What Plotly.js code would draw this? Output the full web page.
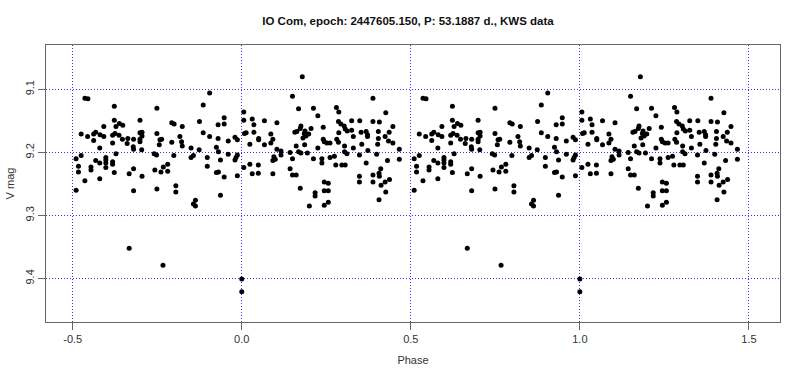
<!DOCTYPE html>
<html>
<head>
<meta charset="utf-8">
<script src="https://cdn.plot.ly/plotly-3.0.1.min.js"></script>
<style>html,body{margin:0;padding:0;background:#fff;}#chart{width:800px;height:381px;}</style>
</head>
<body>
<div id="chart"></div>
<script>
// Folded phase (-0.5..0.5) and V magnitude
const phase = [
-0.464,-0.455,-0.377,-0.251,-0.377,-0.301,-0.362,-0.352,-0.372,-0.408,
-0.207,-0.200,-0.475,-0.456,-0.438,-0.432,-0.419,-0.408,-0.438,-0.382,
-0.375,-0.363,-0.353,-0.337,-0.339,-0.382,-0.320,-0.301,-0.295,-0.295,
-0.301,-0.301,-0.251,-0.242,-0.237,-0.244,-0.207,-0.420,-0.321,-0.320,
-0.296,-0.490,-0.475,-0.483,-0.483,-0.464,-0.490,-0.446,-0.446,-0.432,
-0.420,-0.420,-0.402,-0.402,-0.402,-0.402,-0.382,-0.382,-0.377,-0.372,
-0.333,-0.320,-0.295,-0.320,-0.259,-0.252,-0.257,-0.239,-0.232,-0.219,
-0.219,-0.251,-0.201,-0.195,-0.195,-0.333,-0.233,
-0.095,-0.114,-0.125,-0.176,-0.052,-0.070,-0.052,0.006,0.006,0.031,
0.036,0.067,0.104,-0.114,-0.095,-0.070,-0.040,-0.020,-0.013,-0.183,
-0.178,0.008,0.013,0.036,0.050,0.050,0.024,0.086,0.092,0.086,
0.067,0.157,-0.176,-0.150,-0.143,-0.150,-0.126,-0.075,-0.069,-0.102,
-0.102,-0.063,-0.040,-0.013,-0.017,-0.020,-0.075,-0.069,-0.052,-0.013,
0.006,0.024,0.031,0.049,0.049,0.104,0.116,0.116,0.095,0.099,
0.092,0.092,0.143,0.150,0.143,0.150,-0.137,-0.143,-0.137,-0.063,
0.000,0.000,0.150,
0.179,0.168,0.212,0.225,0.280,0.287,0.388,0.426,0.163,0.175,
0.173,0.187,0.185,0.205,0.241,0.198,0.190,0.181,0.286,0.293,
0.303,0.306,0.312,0.325,0.325,0.287,0.349,0.353,0.368,0.372,
0.372,0.388,0.407,0.404,0.436,0.447,0.330,0.404,0.424,0.434,
0.447,0.241,0.244,0.252,0.261,0.281,0.286,0.355,0.402,0.161,
0.168,0.175,0.186,0.194,0.225,0.304,0.311,0.304,0.330,0.348,
0.373,0.399,0.466,0.466,0.212,0.237,0.237,0.261,0.274,0.278,
0.296,0.306,0.368,0.431,0.161,0.173,0.217,0.217,0.244,0.256,
0.244,0.256,0.256,0.244,0.200,0.348,0.348,0.388,0.388,0.406,
0.407,0.411,0.424,0.437,0.412,0.426,0.406
];
const vmag = [
9.114,9.115,9.127,9.130,9.149,9.149,9.154,9.157,9.159,9.159,
9.153,9.155,9.171,9.175,9.171,9.168,9.172,9.175,9.181,9.173,
9.170,9.173,9.179,9.178,9.186,9.185,9.179,9.169,9.168,9.174,
9.179,9.183,9.170,9.180,9.179,9.188,9.184,9.193,9.191,9.195,
9.196,9.210,9.205,9.222,9.231,9.245,9.260,9.223,9.228,9.213,
9.217,9.242,9.208,9.212,9.217,9.224,9.215,9.219,9.232,9.202,
9.234,9.226,9.238,9.261,9.202,9.204,9.228,9.231,9.223,9.219,
9.230,9.258,9.205,9.253,9.263,9.352,9.379,
9.106,9.125,9.151,9.159,9.145,9.156,9.155,9.136,9.149,9.147,
9.156,9.150,9.153,9.169,9.175,9.178,9.182,9.176,9.180,9.175,
9.183,9.170,9.169,9.168,9.178,9.180,9.187,9.171,9.179,9.185,
9.188,9.168,9.190,9.193,9.205,9.208,9.196,9.192,9.199,9.208,
9.222,9.212,9.203,9.204,9.208,9.212,9.232,9.231,9.239,9.237,
9.224,9.219,9.234,9.220,9.233,9.195,9.198,9.204,9.207,9.211,
9.213,9.234,9.200,9.210,9.226,9.236,9.276,9.282,9.285,9.268,
9.401,9.421,9.111,
9.080,9.131,9.130,9.142,9.129,9.136,9.114,9.137,9.167,9.158,
9.162,9.166,9.170,9.162,9.160,9.171,9.174,9.177,9.151,9.155,
9.158,9.163,9.166,9.150,9.165,9.169,9.150,9.168,9.167,9.172,
9.175,9.151,9.152,9.167,9.168,9.159,9.175,9.178,9.175,9.182,
9.185,9.179,9.183,9.185,9.185,9.179,9.184,9.187,9.187,9.190,
9.199,9.201,9.188,9.201,9.193,9.190,9.202,9.199,9.193,9.204,
9.197,9.203,9.195,9.211,9.210,9.210,9.217,9.208,9.206,9.220,
9.220,9.220,9.217,9.213,9.236,9.257,9.264,9.269,9.247,9.249,
9.261,9.261,9.279,9.284,9.285,9.238,9.247,9.236,9.247,9.233,
9.238,9.226,9.247,9.243,9.252,9.263,9.275
];
const xTicks = [-0.5, 0.0, 0.5, 1.0, 1.5];
const xTickText = ["-0.5", "0.0", "0.5", "1.0", "1.5"];
const yTicks = [9.1, 9.2, 9.3, 9.4];
const yTickText = ["9.1", "9.2", "9.3", "9.4"];
const titleText = "IO Com, epoch: 2447605.150, P: 53.1887 d., KWS data";

// each observation is shown twice: at its phase and one cycle later
const xs = phase.concat(phase.map(p => p + 1));
const ys = vmag.concat(vmag);

const trace = {
  x: xs, y: ys, type: 'scatter', mode: 'markers',
  marker: {color: '#000000', size: 5, line: {width: 0}},
  hoverinfo: 'x+y'
};

const gridCol = '#3030ff';
const layout = {
  width: 800, height: 381,
  margin: {l: 46, r: 20, t: 45, b: 59},
  paper_bgcolor: '#ffffff', plot_bgcolor: '#ffffff',
  showlegend: false,
  font: {family: 'Liberation Sans, Arial, sans-serif', size: 11, color: '#333'},
  title: {text: '<b>' + titleText + '</b>', x: 0.51, xanchor: 'center', y: 0.945, yanchor: 'middle',
          font: {family: 'Liberation Sans, Arial, sans-serif', size: 11.5, color: '#111'}},
  xaxis: {
    range: [-0.579, 1.592], tickvals: xTicks, ticktext: xTickText,
    showgrid: true, gridcolor: gridCol, griddash: '1px,2px', gridwidth: 1,
    zeroline: false, showline: true, linecolor: '#666', linewidth: 1, mirror: true,
    ticks: 'outside', ticklen: 7, tickcolor: '#666',
    tickfont: {size: 11, color: '#333'},
    title: {text: 'Phase', standoff: 12, font: {size: 11, color: '#333'}}
  },
  yaxis: {
    range: [9.469, 9.0297], tickvals: yTicks, ticktext: yTickText, tickangle: -90,
    showgrid: true, gridcolor: gridCol, griddash: '1px,2px', gridwidth: 1,
    zeroline: false, showline: true, linecolor: '#666', linewidth: 1, mirror: true,
    ticks: 'outside', ticklen: 7, tickcolor: '#666',
    tickfont: {size: 11, color: '#333'},
    title: {text: 'V mag', standoff: 6, font: {size: 11, color: '#333'}}
  }
};

Plotly.newPlot('chart', [trace], layout, {displayModeBar: false, staticPlot: true});
</script>
</body>
</html>
